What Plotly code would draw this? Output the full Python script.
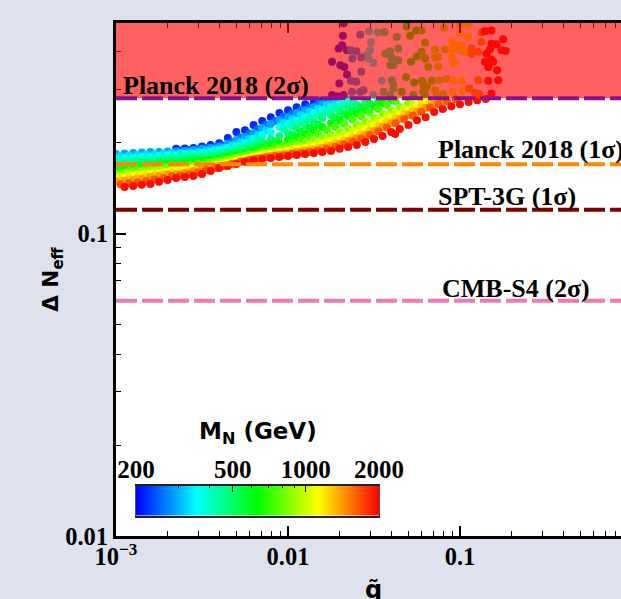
import numpy as np
import plotly.graph_objects as go

# log10(q) grids shared by the iso-mass rows of the band
log_q_grid = [-3.00,-2.95,-2.90,-2.85,-2.80,-2.75,-2.70,-2.65,-2.60,-2.55,-2.50,-2.45,-2.40,-2.35,-2.30,-2.25,-2.20,-2.15,-2.10,-2.05,-2.00,-1.95,-1.90,-1.85,-1.80,-1.75,-1.70,-1.65,-1.60,-1.55,-1.50,-1.45,-1.40,-1.35,-1.30,-1.25,-1.20,-1.15,-1.10,-1.05,-1.00,-0.95,-0.90,-0.85]
log_q_grid_b = [-2.975,-2.925,-2.875,-2.825,-2.775,-2.725,-2.675,-2.625,-2.575,-2.525,-2.475,-2.425,-2.375,-2.325,-2.275,-2.225,-2.175,-2.125,-2.075,-2.025,-1.975,-1.925,-1.875,-1.825,-1.775,-1.725,-1.675,-1.625,-1.575,-1.525,-1.475,-1.425,-1.375,-1.325,-1.275,-1.225,-1.175,-1.125,-1.075,-1.025]

# log10(delta Neff) along rows of fixed mass
row_m220_dn = [-.719,-.718,-.716,-.711,-.706,-.700,-.683,-.663,-.657,-.640,-.627,-.614,-.600,-.591,-.581,-.571,-.564,-.558]
row_m290_dn = [-.736,-.734,-.733,-.731,-.729,-.729,-.728,-.728,-.726,-.723,-.719,-.716,-.710,-.703,-.690,-.680,-.667,-.650,-.637,-.624,-.614,-.601,-.591,-.581,-.571,-.561]
row_m370_dn = [-.752,-.749,-.749,-.746,-.746,-.743,-.739,-.739,-.736,-.736,-.733,-.729,-.723,-.716,-.710,-.700,-.686,-.673,-.663,-.647,-.637,-.627,-.614,-.601,-.591,-.581,-.568,-.558]
row_m480_dn = [-.772,-.769,-.766,-.762,-.762,-.759,-.756,-.756,-.752,-.749,-.746,-.743,-.739,-.733,-.726,-.719,-.710,-.696,-.686,-.676,-.667,-.650,-.640,-.630,-.617,-.607,-.594,-.584,-.574,-.564]
row_m630_dn = [-.789,-.785,-.782,-.779,-.776,-.772,-.769,-.769,-.766,-.762,-.759,-.756,-.752,-.746,-.739,-.733,-.726,-.716,-.710,-.700,-.690,-.680,-.670,-.657,-.647,-.634,-.624,-.610,-.601,-.591,-.578,-.568,-.558]
row_m850_dn = [-.805,-.799,-.795,-.792,-.789,-.785,-.782,-.782,-.779,-.776,-.772,-.766,-.762,-.756,-.749,-.743,-.739,-.729,-.726,-.719,-.713,-.706,-.700,-.690,-.683,-.673,-.663,-.653,-.640,-.630,-.617,-.604,-.594,-.581,-.568]
row_m1120_dn = [-.818,-.815,-.809,-.805,-.802,-.799,-.795,-.792,-.789,-.785,-.779,-.776,-.772,-.766,-.759,-.752,-.746,-.739,-.736,-.729,-.726,-.719,-.716,-.710,-.703,-.693,-.686,-.676,-.667,-.653,-.640,-.627,-.614,-.604,-.591,-.578,-.564]
row_m1400_dn = [-.828,-.825,-.822,-.818,-.812,-.809,-.805,-.802,-.799,-.792,-.785,-.782,-.776,-.772,-.766,-.759,-.752,-.749,-.743,-.739,-.736,-.729,-.726,-.723,-.716,-.710,-.703,-.693,-.683,-.673,-.660,-.647,-.634,-.620,-.607,-.597,-.584,-.571,-.561]
row_m1950_dn = [-.845,-.842,-.838,-.835,-.828,-.822,-.815,-.812,-.809,-.802,-.792,-.782,-.776,-.769,-.762,-.756,-.752,-.749,-.746,-.743,-.739,-.736,-.733,-.729,-.726,-.719,-.713,-.706,-.696,-.686,-.676,-.663,-.653,-.640,-.624,-.614,-.597,-.587,-.578,-.571,-.564,-.558,-.554]
row_m255_dn = [-.724,-.723,-.721,-.717,-.713,-.709,-.697,-.681,-.668,-.654,-.639,-.627,-.612,-.602,-.591,-.581,-.571,-.561]
row_m330_dn = [-.743,-.741,-.740,-.738,-.737,-.735,-.734,-.733,-.731,-.729,-.725,-.721,-.716,-.707,-.697,-.686,-.673,-.658,None,-.633,-.620,-.608,-.596,-.586,-.575,-.565]
row_m425_dn = [-.761,-.758,-.756,-.754,-.753,-.750,-.748,-.746,-.743,-.741,-.738,-.734,-.729,-.722,-.713,-.702,-.690,None,None,-.653,-.643,-.631,-.619,-.607,-.596,-.584,-.574,-.563]
row_m550_dn = [-.780,-.777,-.774,-.771,-.769,-.766,-.764,-.762,-.759,-.756,-.753,-.749,-.744,-.737,-.731,-.723,-.713,-.704,-.694,None,-.673,-.662,-.650,-.639,None,-.615,-.604,-.593,-.582,-.570,-.562]
row_m735_dn = [-.796,-.792,-.788,-.785,-.782,-.778,-.776,-.774,-.772,-.768,-.764,-.760,-.755,-.749,-.743,-.737,-.729,-.722,-.714,-.706,-.698,-.689,-.679,-.669,-.657,-.646,-.635,-.622,-.610,-.598,-.586,-.573,-.562]
row_m980_dn = [-.809,-.804,-.801,-.798,-.795,-.792,-.789,-.787,-.784,-.780,-.776,-.771,-.766,-.760,-.754,-.748,-.741,-.735,-.730,-.725,-.719,-.713,-.706,-.698,-.689,-.680,-.671,-.659,-.647,-.634,-.621,-.608,-.597,-.585,-.572,-.562]
row_m1250_dn = [-.822,-.818,-.814,-.810,-.807,-.803,-.800,-.797,-.793,-.788,-.783,-.778,-.773,-.767,-.760,-.754,-.748,-.743,-.738,-.734,-.730,-.725,-.721,-.715,-.708,-.700,-.692,-.682,-.671,-.658,-.644,-.630,-.617,-.604,-.592,-.579,-.567,-.557]
row_m1650_dn = [-.836,-.833,-.830,-.826,-.820,-.815,-.810,-.807,-.803,-.797,-.789,-.782,-.776,-.769,-.762,-.756,-.752,-.747,-.743,-.740,-.736,-.733,-.729,-.724,-.718,-.712,-.704,-.695,-.685,-.673,-.661,-.648,-.634,-.620,-.609,-.596,-.582,-.571,-.562,-.555]
band_rows = [(220,log_q_grid,7,row_m220_dn),(255,log_q_grid_b,7,row_m255_dn),(290,log_q_grid,0,row_m290_dn),(330,log_q_grid_b,0,row_m330_dn),
             (370,log_q_grid,0,row_m370_dn),(425,log_q_grid_b,0,row_m425_dn),(480,log_q_grid,0,row_m480_dn),(550,log_q_grid_b,0,row_m550_dn),
             (630,log_q_grid,0,row_m630_dn),(735,log_q_grid_b,0,row_m735_dn),(850,log_q_grid,0,row_m850_dn),(980,log_q_grid_b,0,row_m980_dn),
             (1120,log_q_grid,0,row_m1120_dn),(1250,log_q_grid_b,0,row_m1250_dn),(1400,log_q_grid,0,row_m1400_dn),(1650,log_q_grid_b,0,row_m1650_dn),
             (1950,log_q_grid,1,row_m1950_dn)]

# sparse points above the Planck 2 sigma limit
top_log_q = [-1.681,-1.580,-1.530,-1.478,-1.439,-1.368,-1.290,-1.256,-1.223,-1.310,-1.677,-1.518,-1.686,-1.706,-1.657,-1.634,-1.603,-1.522,-1.541,-1.626,-1.574,-1.532,-1.503,-1.435,-1.406,-1.358,-1.397,-1.358,-1.387,-1.406,-1.285,-1.252,-1.223,-1.203,-1.744,-1.696,-1.673,-1.657,-1.574,-1.702,-1.634,-1.603,-1.455,-1.397,-1.387,-1.314,-1.267,-1.217,-1.503,-1.445,-1.387,-1.339,-1.561,-1.628,-1.677,-1.744,-1.271,-1.213,-1.194,-1.406,-1.580,-1.715,
 -1.093,-1.000,-.952,-1.000,-.952,-.875,-.855,-.817,-.749,-.875,-1.203,-1.048,-1.029,-.990,-.817,-.788,-.826,-.759,-.734,-1.145,-1.087,-1.048,-1.004,-.971,-.933,-.933,-.894,-.846,-1.203,-1.145,-1.126,-1.048,-1.029,-.855,-.817,-1.184,-1.126,-1.039,-.836,-.807,-.784,-1.222,-1.164,-1.120,-1.077,-1.039,-.990,-.894,-.836,-.778,-1.213,-1.145,-1.203,-1.097,-1.043,-.985,-.946,-.913,-.888,-.817,-1.135]
top_log_dn = [-.345,-.341,-.330,-.334,-.332,-.349,-.345,-.327,-.327,-.314,-.303,-.367,-.376,-.387,-.393,-.393,-.396,-.393,-.409,-.420,-.417,-.420,-.435,-.404,-.396,-.387,-.418,-.426,-.442,-.442,-.431,-.413,-.398,-.420,-.431,-.442,-.448,-.473,-.464,-.503,-.494,-.497,-.494,-.492,-.508,-.481,-.499,-.497,-.541,-.530,-.519,-.530,-.525,-.530,-.541,-.541,-.541,-.530,-.514,-.541,-.530,-.545,
 -.318,-.310,-.310,-.336,-.349,-.334,-.330,-.327,-.356,-.365,-.368,-.362,-.376,-.376,-.371,-.373,-.390,-.393,-.395,-.390,-.390,-.390,-.393,-.398,-.387,-.404,-.398,-.404,-.420,-.417,-.415,-.417,-.431,-.431,-.424,-.448,-.446,-.437,-.448,-.431,-.459,-.494,-.494,-.492,-.488,-.494,-.494,-.492,-.494,-.492,-.508,-.525,-.538,-.538,-.530,-.527,-.519,-.534,-.538,-.536,-.541]
top_mass = [215,280,360,360,480,480,630,630,720,630,215,360,215,215,215,280,280,360,360,280,280,360,360,480,480,480,480,480,480,480,630,630,720,720,215,215,215,215,280,215,280,280,360,480,480,630,630,720,360,480,480,630,280,280,215,215,630,720,720,480,280,215,
 900,1120,1120,1120,1120,1400,1900,1900,1900,1400,720,1120,1120,1120,1900,1900,1900,1900,1900,900,900,1120,1120,1120,1400,1400,1400,1900,720,900,900,1120,1120,1900,1900,720,900,1120,1900,1900,1900,720,720,900,900,1120,1120,1400,1900,1900,720,900,720,900,1120,1120,1400,1400,1400,1900,900]
outlier_log_q = [-1.377]
outlier_log_dn = [-.670]
outlier_mass = [1950]

# reference limits on delta Neff
limit_names = ["Planck 2018 (2σ)", "Planck 2018 (1σ)", "SPT-3G (1σ)", "CMB-S4 (2σ)"]
limit_values = [0.281, 0.170, 0.120, 0.060]
limit_colors = ["#8e1090", "#ff8800", "#820000", "#ee78b8"]

cbar_major = [200, 500, 1000, 2000]
cbar_major_text = ["<b>200</b>", "<b>500</b>", "<b>1000</b>", "<b>2000</b>"]
cbar_minor = [300, 400, 600, 700, 800, 900]

q_all, dn_all, m_all = [], [], []
for mass, grid, start, vals in band_rows:
    for i, v in enumerate(vals):
        if v is not None:
            q_all.append(grid[start + i]); dn_all.append(v); m_all.append(mass)
q_all += top_log_q + outlier_log_q
dn_all += top_log_dn + outlier_log_dn
m_all += top_mass + outlier_mass

W, H, L, T, B = 621, 599, 116, 23, 62.5
SERIF = "Liberation Serif"
SANS = "DejaVu Sans"
RAMP = [[0, "#0000ff"], [.25, "#00ffff"], [.5, "#00ff00"], [.75, "#ffff00"], [1, "#ff0000"]]
LOGMIN, LOGMAX = np.log10(200), np.log10(2000)
Y_TOP = -0.3025

fig = go.Figure(go.Scatter(
    x=10 ** np.array(q_all), y=10 ** np.array(dn_all), mode="markers",
    marker=dict(size=8, color=np.log10(m_all), cmin=LOGMIN, cmax=LOGMAX, colorscale=RAMP, showscale=False),
    hoverinfo="skip", showlegend=False))

# colour key: a ramp drawn on its own small log axis
ramp_mass = np.logspace(LOGMIN, LOGMAX, 244)
fig.add_trace(go.Heatmap(x=ramp_mass, y=[0, 1], z=[np.log10(ramp_mass), np.log10(ramp_mass)],
                         zmin=LOGMIN, zmax=LOGMAX, colorscale=RAMP, showscale=False,
                         xaxis="x2", yaxis="y2", hoverinfo="skip"))

shapes = [dict(type="rect", xref="paper", x0=0, x1=1, yref="y", y0=limit_values[0], y1=10 ** Y_TOP,
               fillcolor="rgba(255,0,0,0.62)", line_width=0, layer="above")]
for val, col in zip(limit_values, limit_colors):
    shapes.append(dict(type="line", xref="paper", x0=0, x1=1, yref="y", y0=val, y1=val, layer="above",
                       line=dict(color=col, width=4, dash="21px,5px")))

def label(text, px, py, family=SERIF, size=26, **kw):
    return dict(text=text, xref="paper", yref="paper", x=(px - L) / (W - L), y=(H - B - py) / (H - B - T),
                showarrow=False, xanchor="left", yanchor="middle", font=dict(family=family, size=size, color="#000"), **kw)

annotations = [
    label("<b>%s</b>" % limit_names[0], 121, 86),
    label("<b>%s</b>" % limit_names[1], 435.5, 150),
    label("<b>%s</b>" % limit_names[2], 435.5, 197),
    label("<b>%s</b>" % limit_names[3], 439.5, 289),
    label("<b>M<sub>N</sub> (GeV)</b>", 197, 433, family=SANS, size=23),
    dict(label("<b>Δ N<sub>eff</sub></b>", 53, 280, family=SANS, size=21.5), textangle=-90, xanchor="center"),
    dict(label("<b>q̃</b>", 373, 591, family=SANS, size=24), xanchor="center"),
]

axis_common = dict(type="log", showgrid=False, zeroline=False, showline=True, linecolor="#000", linewidth=3,
                   ticks="inside", ticklen=10, tickwidth=1.5, tickcolor="#000",
                   tickfont=dict(family=SERIF, size=24.5, color="#000"))
fig.update_layout(
    width=W, height=H, margin=dict(l=L, r=0, t=T, b=B, autoexpand=False),
    paper_bgcolor="#dee2ee", plot_bgcolor="#ffffff",
    shapes=shapes, annotations=annotations,
    xaxis=dict(axis_common, range=[-3, -0.064], mirror="ticks", tickmode="array", ticklabelstandoff=-3,
               tickvals=[0.001, 0.01, 0.1], ticktext=["<b>10<sup>−3</sup></b>", "<b>0.01</b>", "<b>0.1</b>"],
               minor=dict(ticks="inside", ticklen=5, tickcolor="#000", tickwidth=1.2, tickmode="array",
                          tickvals=[a * 10 ** e for e in (-3, -2, -1) for a in range(2, 10)])),
    yaxis=dict(axis_common, range=[-2, Y_TOP], tickmode="array",
               tickvals=[0.01, 0.1], ticktext=["<b>0.01</b>", "<b>0.1</b>"],
               minor=dict(ticks="inside", ticklen=5, tickcolor="#000", tickwidth=1.2, tickmode="array",
                          tickvals=[a * 10 ** e for e in (-2, -1) for a in range(2, 10)])),
    xaxis2=dict(type="log", domain=[(136 - L) / (W - L), (379 - L) / (W - L)], anchor="y2", side="top",
                range=[LOGMIN, LOGMAX], showgrid=False, zeroline=False, showline=True, linecolor="#222",
                linewidth=1.5, mirror=True, ticks="inside", ticklen=7, tickwidth=1, tickcolor="#000",
                tickmode="array", tickvals=cbar_major, ticktext=cbar_major_text, ticklabelstandoff=-4,
                tickfont=dict(family=SERIF, size=25, color="#000"),
                minor=dict(ticks="inside", ticklen=3, tickcolor="#000", tickwidth=1, tickmode="array", tickvals=cbar_minor)),
    yaxis2=dict(domain=[(H - B - 516) / (H - B - T), (H - B - 486) / (H - B - T)], anchor="x2",
                range=[0, 1], showgrid=False, zeroline=False, showticklabels=False, ticks="",
                showline=True, linecolor="#555", linewidth=1, mirror=True),
)
fig.write_html("out.html", post_script="document.body.style.margin='0';", config={"displayModeBar": False})
